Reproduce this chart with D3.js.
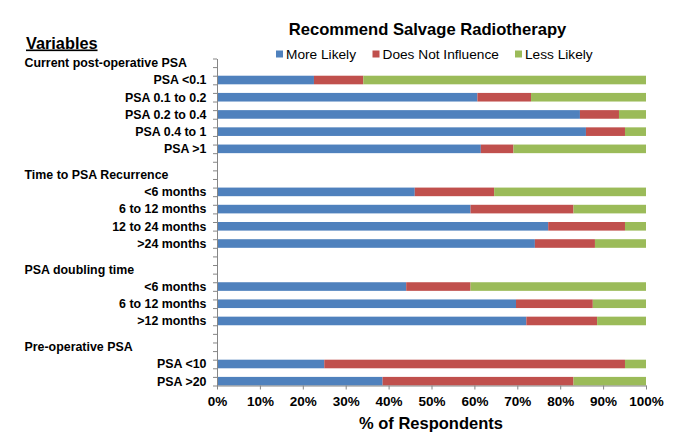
<!DOCTYPE html>
<html>
<head>
<meta charset="utf-8">
<script src="https://cdn.jsdelivr.net/npm/d3@7"></script>
<style>
  body { margin: 0; background: #fff; }
  svg { display: block; font-family: "Liberation Sans", Arial, sans-serif; }
</style>
</head>
<body>
<div id="chart"></div>
<script>
// data
const groups = ["Current post-operative PSA", "Time to PSA Recurrence", "PSA doubling time", "Pre-operative PSA"];
const categories = ["PSA <0.1", "PSA 0.1 to 0.2", "PSA 0.2 to 0.4", "PSA 0.4 to 1", "PSA >1",
                    "<6 months", "6 to 12 months", "12 to 24 months", ">24 months",
                    "<6 months", "6 to 12 months", ">12 months",
                    "PSA <10", "PSA >20"];
const categoryGroup = [0, 0, 0, 0, 0, 1, 1, 1, 1, 2, 2, 2, 3, 3];
const seriesNames = ["More Likely", "Does Not Influence", "Less Likely"];
const moreLikely       = [22.6, 60.7, 84.6, 86.0, 61.5, 46.1, 59.1, 77.2, 74.1, 44.1, 69.7, 72.1, 25.0, 38.6];
const doesNotInfluence = [11.5, 12.5,  9.1,  9.1,  7.6, 18.5, 24.0, 17.9, 14.0, 15.0, 17.9, 16.5, 70.1, 44.5];
const lessLikely       = [65.9, 26.8,  6.3,  4.9, 30.9, 35.4, 16.9,  4.9, 11.9, 40.9, 12.4, 11.4,  4.9, 16.9];
const xTicks = [0, 10, 20, 30, 40, 50, 60, 70, 80, 90, 100];

const colors = ["#4F81BD", "#C0504D", "#9BBB59"];

const W = 679, H = 443;
const svg = d3.select("#chart").append("svg").attr("width", W).attr("height", H);

// slot layout: header, gap, item, gap, item ... then two gaps before next header
let slot = 0;
const headerSlot = [];
const itemSlot = [];
groups.forEach((g, gi) => {
  headerSlot.push(slot);
  slot += 2;
  categories.forEach((c, i) => {
    if (categoryGroup[i] === gi) { itemSlot[i] = slot; slot += 2; }
  });
  slot += 1;
});
const nSlots = itemSlot[itemSlot.length - 1] + 1;

const plot = { left: 217, right: 646, top: 58.5, bottom: 385.5 };

const x = d3.scaleLinear().domain([0, 100]).range([plot.left, plot.right]);
const y = d3.scaleBand().domain(d3.range(nSlots)).range([plot.top, plot.bottom]).padding(0);
const yTick = d3.scaleLinear().domain([0, nSlots]).range([plot.top, plot.bottom]);

const rows = categories.map((c, i) => ({
  label: c, slot: itemSlot[i],
  [seriesNames[0]]: moreLikely[i],
  [seriesNames[1]]: doesNotInfluence[i],
  [seriesNames[2]]: lessLikely[i]
}));
const stacked = d3.stack().keys(seriesNames)(rows);

// bars
svg.append("g").selectAll("g").data(stacked).join("g")
  .attr("fill", (d, i) => colors[i])
  .selectAll("rect").data(d => d).join("rect")
    .attr("x", d => x(d[0]))
    .attr("width", d => x(d[1]) - x(d[0]))
    .attr("y", d => y(d.data.slot))
    .attr("height", y.bandwidth());

// y axis with a tick at every slot boundary
const yAxis = svg.append("g")
  .attr("transform", `translate(${plot.left},0)`)
  .call(d3.axisLeft(yTick).tickValues(d3.range(nSlots + 1)).tickFormat("").tickSize(4).tickSizeOuter(0));
yAxis.selectAll("path, line").attr("stroke", "#868686");

// x axis
const xAxis = svg.append("g")
  .attr("transform", `translate(0,${plot.bottom})`)
  .call(d3.axisBottom(x).tickValues(xTicks).tickFormat(d => d + "%").tickSize(4).tickSizeOuter(0).tickPadding(7));
xAxis.selectAll("path, line").attr("stroke", "#868686");
xAxis.selectAll("text")
  .attr("font-family", "Liberation Sans, Arial, sans-serif")
  .attr("font-size", 13.5).attr("font-weight", "bold").attr("fill", "#000");

// category labels
svg.append("g").selectAll("text").data(rows).join("text")
  .attr("x", 206.5)
  .attr("y", d => y(d.slot) + y.bandwidth() / 2 + 4.4)
  .attr("text-anchor", "end")
  .attr("font-size", 12.4).attr("font-weight", "bold")
  .text(d => d.label);

// group headers
svg.append("g").selectAll("text").data(groups).join("text")
  .attr("x", 24.5)
  .attr("y", (d, i) => y(headerSlot[i]) + y.bandwidth() / 2 + 4.4)
  .attr("font-size", 12.4).attr("font-weight", "bold")
  .text(d => d);

svg.append("text")
  .attr("x", 26).attr("y", 48.5)
  .attr("font-size", 16.3).attr("font-weight", "bold")
  .attr("text-decoration", "underline")
  .text("Variables");

// title
svg.append("text")
  .attr("x", 427.5).attr("y", 34.5)
  .attr("text-anchor", "middle")
  .attr("font-size", 16.6).attr("font-weight", "bold")
  .text("Recommend Salvage Radiotherapy");

// legend
const legendX = [276, 372.5, 515];
const legend = svg.append("g").selectAll("g").data(seriesNames).join("g")
  .attr("transform", (d, i) => `translate(${legendX[i]},50.5)`);
legend.append("rect").attr("width", 7).attr("height", 7).attr("fill", (d, i) => colors[i]);
legend.append("text").attr("x", 10).attr("y", 8.7)
  .attr("font-size", 13.7)
  .text(d => d);

// x axis title
svg.append("text")
  .attr("x", 431).attr("y", 428.5)
  .attr("text-anchor", "middle")
  .attr("font-size", 16.5).attr("font-weight", "bold")
  .text("% of Respondents");
</script>
</body>
</html>
